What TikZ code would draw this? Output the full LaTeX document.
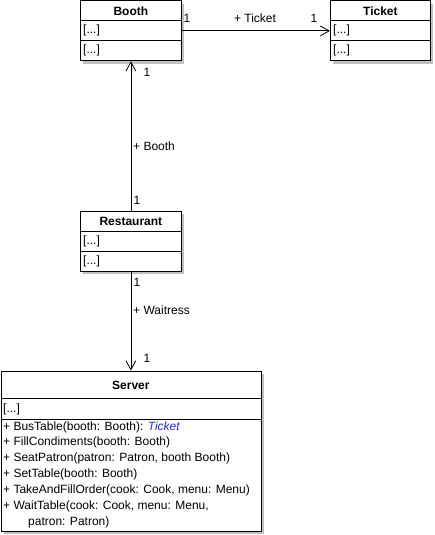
\documentclass[tikz,border=0pt]{standalone}
\usepackage{fontspec}
\setmainfont{Liberation Sans}
\usetikzlibrary{arrows.meta,calc,shadows}
\definecolor{shadowgray}{RGB}{192,192,192}
\definecolor{typeblue}{RGB}{40,40,235}
\begin{document}
\begin{tikzpicture}[x=1pt,y=-1pt,
  cls/.style={draw=black, line width=0.8pt, fill=white, inner sep=0pt, anchor=north west,
    drop shadow={shadow xshift=3pt, shadow yshift=-3pt, fill=shadowgray, opacity=1}},
  divider/.style={draw=black, line width=0.8pt},
  txt/.style={font=\fontsize{12}{14}\selectfont, inner sep=0pt, anchor=west},
  title/.style={font=\fontsize{12}{14}\selectfont\bfseries, inner sep=0pt},
  lbl/.style={font=\fontsize{12}{14}\selectfont, inner sep=0pt},
  assoc/.style={draw=black, line width=0.8pt, -{Straight Barb[length=9pt,width=10pt,line width=0.8pt]}}]
\useasboundingbox (0,0) rectangle (435,535);

% Booth
\node[cls, minimum width=101pt, minimum height=60pt] (booth) at (80,0.5) {};
\draw[divider] ($(booth.north west)+(0,20)$) -- ($(booth.north east)+(0,20)$);
\draw[divider] ($(booth.north west)+(0,40)$) -- ($(booth.north east)+(0,40)$);
\node[title] (boothT) at ($(booth.north)+(0,10.5)$) {Booth};
\node[txt] (boothA) at ($(booth.north west)+(3,30)$) {[...]};
\node[txt] (boothO) at ($(booth.north west)+(3,50)$) {[...]};

% Ticket
\node[cls, minimum width=100pt, minimum height=60pt] (ticket) at (330,0.5) {};
\draw[divider] ($(ticket.north west)+(0,20)$) -- ($(ticket.north east)+(0,20)$);
\draw[divider] ($(ticket.north west)+(0,40)$) -- ($(ticket.north east)+(0,40)$);
\node[title] (ticketT) at ($(ticket.north)+(0,10.5)$) {Ticket};
\node[txt] (ticketA) at ($(ticket.north west)+(3,30)$) {[...]};
\node[txt] (ticketO) at ($(ticket.north west)+(3,50)$) {[...]};

% Restaurant
\node[cls, minimum width=101pt, minimum height=60pt] (rest) at (80,210.5) {};
\draw[divider] ($(rest.north west)+(0,20.5)$) -- ($(rest.north east)+(0,20.5)$);
\draw[divider] ($(rest.north west)+(0,40.5)$) -- ($(rest.north east)+(0,40.5)$);
\node[title] (restT) at ($(rest.north)+(0,10.5)$) {Restaurant};
\node[txt] (restA) at ($(rest.north west)+(3,30.5)$) {[...]};
\node[txt] (restO) at ($(rest.north west)+(3,50.5)$) {[...]};

% Server
\node[cls, minimum width=260pt, minimum height=160.5pt] (server) at (0.5,370.5) {};
\draw[divider] ($(server.north west)+(0,28)$) -- ($(server.north east)+(0,28)$);
\draw[divider] ($(server.north west)+(0,49)$) -- ($(server.north east)+(0,49)$);
\node[title] (serverT) at ($(server.north)+(0,14.5)$) {Server};
\node[txt] (serverA) at ($(server.north west)+(2.5,39)$) {[...]};
\node[txt] (m1) at ($(server.north west)+(2.5,56.5)$) {+ BusTable(booth: Booth): \textcolor{typeblue}{\itshape Ticket}};
\node[txt] (m2) at ($(server.north west)+(2.5,72)$) {+ FillCondiments(booth: Booth)};
\node[txt] (m3) at ($(server.north west)+(2.5,88)$) {+ SeatPatron(patron: Patron, booth Booth)};
\node[txt] (m4) at ($(server.north west)+(2.5,104)$) {+ SetTable(booth: Booth)};
\node[txt] (m5) at ($(server.north west)+(2.5,120)$) {+ TakeAndFillOrder(cook: Cook, menu: Menu)};
\node[txt] (m6) at ($(server.north west)+(2.5,136)$) {+ WaitTable(cook: Cook, menu: Menu,};
\node[txt] (m7) at ($(server.north west)+(27.5,152)$) {patron: Patron)};

% Connectors
\draw[assoc] (booth.east) -- (ticket.west);
\node[lbl] (bt1) at (187,18.5) {1};
\node[lbl] (btn) at (255,18.5) {+ Ticket};
\node[lbl] (bt2) at (314,18.5) {1};

\draw[assoc] (rest.north) -- (booth.south);
\node[lbl] (rb1) at (147,72) {1};
\node[lbl, anchor=west] (rbn) at (133,146.5) {+ Booth};
\node[lbl] (rb2) at (137,200) {1};

\draw[assoc] (rest.south) -- (server.north);
\node[lbl] (rs1) at (137,282) {1};
\node[lbl, anchor=west] (rsn) at (133,310) {+ Waitress};
\node[lbl] (rs2) at (147,358.5) {1};
\end{tikzpicture}
\end{document}
